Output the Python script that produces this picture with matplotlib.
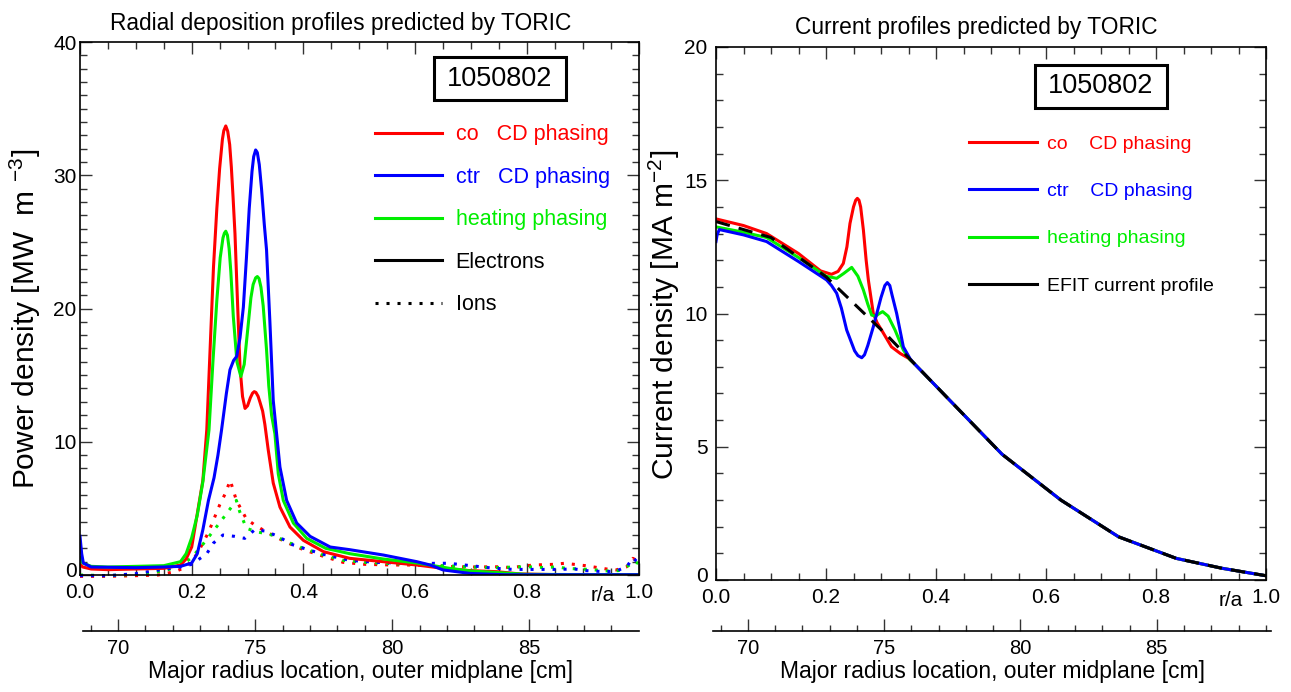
import matplotlib
matplotlib.use("Agg")
import matplotlib.pyplot as plt
from matplotlib.lines import Line2D
from matplotlib.patches import Rectangle
from matplotlib.ticker import MultipleLocator, FormatStrFormatter
from matplotlib.transforms import ScaledTranslation

plt.rcParams['font.family'] = ['Liberation Sans', 'DejaVu Sans']
plt.rcParams['mathtext.fontset'] = 'custom'
plt.rcParams['mathtext.rm'] = 'Liberation Sans'
plt.rcParams['mathtext.it'] = 'Liberation Sans:italic'

RED = '#ff0000'
BLUE = '#0000ff'
GREEN = '#00ee00'
SHOT = '1050802'

# ---- left panel: power density [MW m^-3] vs r/a, electrons (solid)
CO_E_R = [0.0, 0.005, 0.02, 0.05, 0.10, 0.15, 0.18, 0.19, 0.20, 0.21, 0.22, 0.227, 0.233,
          0.239, 0.245, 0.25, 0.255, 0.2575, 0.261, 0.2645, 0.268, 0.271, 0.274, 0.2775,
          0.282, 0.2865, 0.291, 0.2955, 0.300, 0.305, 0.309, 0.312, 0.315, 0.319, 0.322,
          0.327, 0.331, 0.337, 0.346, 0.358, 0.376, 0.40, 0.436, 0.483, 0.543, 0.603,
          0.65, 0.698, 0.746, 0.788, 0.85, 1.0]
CO_E_P = [0.8, 0.6, 0.45, 0.4, 0.45, 0.5, 0.75, 1.2, 2.1, 4.6, 7.1, 10.9, 17.0,
          23.1, 27.5, 30.5, 32.7, 33.35, 33.7, 33.3, 32.3, 30.6, 28.4, 25.6,
          20.5, 15.6, 13.4, 12.5, 12.7, 13.3, 13.65, 13.76, 13.7, 13.4, 13.0,
          12.3, 11.3, 9.4, 6.9, 5.1, 3.6, 2.6, 1.75, 1.25, 1.0, 0.75,
          0.5, 0.33, 0.25, 0.08, 0.03, 0.03]

HT_E_R = [0.0, 0.005, 0.02, 0.05, 0.10, 0.15, 0.18, 0.19, 0.20, 0.21, 0.22, 0.231, 0.238,
          0.245, 0.251, 0.256, 0.2585, 0.261, 0.264, 0.267, 0.27, 0.2745, 0.281, 0.288,
          0.294, 0.30, 0.306, 0.31, 0.3145, 0.3175, 0.3205, 0.324, 0.328, 0.334, 0.338,
          0.343, 0.349, 0.355, 0.364, 0.382, 0.406, 0.44, 0.483, 0.543, 0.603, 0.633,
          0.662, 0.70, 0.80, 0.90, 1.0]
HT_E_P = [1.3, 0.9, 0.65, 0.6, 0.65, 0.7, 1.0, 1.6, 2.8, 4.5, 7.0, 10.9, 16.0,
          20.6, 23.8, 25.3, 25.65, 25.8, 25.5, 24.5, 22.8, 19.4, 16.0, 14.9,
          15.8, 18.3, 20.8, 21.8, 22.3, 22.4, 22.25, 21.6, 20.2, 16.9, 14.2,
          12.0, 10.6, 7.6, 5.6, 3.9, 2.75, 2.0, 1.6, 1.2, 0.9, 0.7,
          0.5, 0.3, 0.05, 0.03, 0.03]

CT_E_R = [0.0, 0.003, 0.006, 0.02, 0.10, 0.15, 0.18, 0.20, 0.21, 0.22, 0.23, 0.24, 0.247,
          0.2535, 0.262, 0.2685, 0.275, 0.2805, 0.2865, 0.2925, 0.298, 0.303, 0.308,
          0.311, 0.3145, 0.3175, 0.321, 0.325, 0.33, 0.334, 0.34, 0.346, 0.352, 0.358,
          0.37, 0.388, 0.412, 0.448, 0.483, 0.543, 0.573, 0.603, 0.627, 0.65, 0.698,
          0.76, 1.0]
CT_E_P = [2.9, 1.6, 0.9, 0.6, 0.55, 0.6, 0.65, 0.9, 1.6, 3.4, 5.6, 7.3, 9.0,
          10.9, 13.6, 15.4, 16.1, 16.4, 17.8, 20.1, 23.8, 27.5, 30.3,
          31.4, 31.9, 31.7, 30.8, 29.0, 26.3, 24.4, 19.0, 13.1, 10.6, 8.1,
          5.6, 3.9, 2.9, 2.1, 1.9, 1.5, 1.25, 1.0, 0.75, 0.38, 0.12,
          0.02, 0.02]

# ions (dotted)
CO_I_R = [0.0, 0.05, 0.10, 0.14, 0.17, 0.19, 0.21, 0.23, 0.25, 0.26, 0.269, 0.28, 0.298,
          0.313, 0.331, 0.349, 0.367, 0.40, 0.436, 0.471, 0.51, 0.56, 0.60, 0.65, 0.70,
          0.755, 0.77, 0.812, 0.848, 0.868, 0.905, 0.943, 0.96, 0.979, 0.99, 1.0]
CO_I_P = [-0.1, -0.1, -0.05, 0.0, 0.25, 0.6, 1.6, 3.2, 5.25, 6.1, 7.1, 5.6, 4.2,
          3.75, 3.3, 2.9, 2.5, 1.9, 1.4, 0.95, 0.8, 0.75, 0.75, 0.65, 0.6,
          0.62, 0.55, 0.75, 0.8, 0.88, 0.7, 0.45, 0.38, 0.62, 1.25, 1.0]

HT_I_R = [0.0, 0.05, 0.10, 0.15, 0.18, 0.20, 0.22, 0.247, 0.265, 0.28, 0.286, 0.298, 0.316,
          0.333, 0.349, 0.367, 0.40, 0.436, 0.471, 0.51, 0.56, 0.60, 0.65, 0.70, 0.74,
          0.80, 0.835, 0.853, 0.87, 0.91, 0.946, 0.964, 0.982, 0.99, 1.0]
HT_I_P = [0.0, -0.05, 0.05, 0.3, 0.7, 1.3, 2.3, 3.75, 4.75, 5.6, 4.75, 3.5, 3.25,
          3.1, 2.95, 2.55, 2.0, 1.5, 1.1, 0.95, 0.85, 0.8, 0.7, 0.6, 0.55,
          0.62, 0.55, 0.62, 0.5, 0.42, 0.3, 0.33, 0.7, 1.0, 0.88]

CT_I_R = [0.0, 0.05, 0.10, 0.137, 0.18, 0.20, 0.227, 0.239, 0.256, 0.277, 0.295, 0.313,
          0.331, 0.352, 0.382, 0.412, 0.436, 0.483, 0.53, 0.60, 0.641, 0.66, 0.70, 0.738,
          0.775, 0.85, 0.886, 0.905, 0.94, 0.96, 0.979, 0.99, 1.0]
CT_I_P = [-0.05, -0.05, 0.1, 0.35, 0.6, 0.8, 1.6, 2.4, 3.0, 2.9, 2.75, 3.4,
          3.3, 2.95, 2.25, 1.85, 1.55, 1.1, 0.95, 0.85, 0.88, 0.88, 0.7, 0.52,
          0.42, 0.42, 0.45, 0.33, 0.25, 0.3, 0.62, 1.3, 0.88]

# ---- right panel: current density [MA m^-2] vs r/a
EFIT_R = [0.0, 0.10, 0.20, 0.31, 0.42, 0.52, 0.627, 0.732, 0.837, 0.92, 1.0]
EFIT_J = [13.45, 12.85, 11.38, 9.2, 6.85, 4.72, 3.0, 1.62, 0.81, 0.44, 0.16]

CO_J_R = [0.0, 0.05, 0.092, 0.15, 0.19, 0.21, 0.222, 0.2315, 0.238, 0.2436, 0.25, 0.254,
          0.257, 0.26, 0.263, 0.268, 0.273, 0.277, 0.286, 0.293, 0.301, 0.319, 0.335,
          0.35, 0.36, 0.42, 0.52, 0.627, 0.732, 0.837, 0.92, 1.0]
CO_J = [13.55, 13.3, 13.0, 12.25, 11.6, 11.47, 11.58, 11.88, 12.5, 13.38, 14.0, 14.25,
        14.32, 14.25, 14.0, 13.13, 12.0, 11.26, 10.0, 9.65, 9.38, 8.75, 8.5,
        8.32, 8.13, 6.85, 4.72, 3.0, 1.62, 0.81, 0.44, 0.16]

HT_J_R = [0.0, 0.05, 0.092, 0.15, 0.2, 0.2194, 0.232, 0.2467, 0.258, 0.268, 0.276, 0.283,
          0.29, 0.297, 0.303, 0.313, 0.3255, 0.3406, 0.353, 0.36, 0.42, 0.52, 0.627,
          0.732, 0.837, 0.92, 1.0]
HT_J = [13.25, 13.05, 12.85, 12.1, 11.4, 11.32, 11.5, 11.73, 11.4, 10.88, 10.35, 9.94,
        9.9, 10.0, 10.07, 9.9, 9.38, 8.63, 8.26, 8.13, 6.85, 4.72, 3.0,
        1.62, 0.81, 0.44, 0.16]

CT_J_R = [0.0, 0.002, 0.006, 0.05, 0.092, 0.15, 0.201, 0.21, 0.2194, 0.228, 0.2376, 0.252,
          0.258, 0.265, 0.27, 0.276, 0.286, 0.3, 0.307, 0.3115, 0.316, 0.32, 0.3285,
          0.3406, 0.353, 0.36, 0.42, 0.52, 0.627, 0.732, 0.837, 0.92, 1.0]
CT_J = [12.7, 12.95, 13.15, 12.95, 12.7, 11.95, 11.26, 11.05, 10.76, 10.2, 9.38, 8.6,
        8.42, 8.34, 8.45, 8.8, 9.5, 10.6, 11.05, 11.16, 11.05, 10.7, 10.0,
        8.75, 8.3, 8.13, 6.85, 4.72, 3.0, 1.62, 0.81, 0.44, 0.16]

R_TICKS = [70, 75, 80, 85]

W, H = 1291, 692
LW = 2.2
DOTS = (0, (1, 2.6))
DASH = (0, (4.7, 3))


def style_main(ax, ymax, ymajor, ypad):
    ax.set_xlim(0, 1)
    ax.set_ylim(0, ymax)
    ax.xaxis.set_major_locator(MultipleLocator(0.2))
    ax.xaxis.set_minor_locator(MultipleLocator(0.05))
    ax.xaxis.set_major_formatter(FormatStrFormatter('%.1f'))
    ax.yaxis.set_major_locator(MultipleLocator(ymajor))
    ax.yaxis.set_minor_locator(MultipleLocator(1))
    ax.tick_params(which='both', direction='in', top=True, right=True, color='#333333')
    ax.tick_params(which='major', length=8.6, width=1.0)
    ax.tick_params(which='minor', length=5, width=1.0)
    ax.tick_params(axis='x', labelsize=15, pad=6)
    ax.tick_params(axis='y', labelsize=15, pad=ypad)
    for s in ax.spines.values():
        s.set_linewidth(1.2)
    ax.text(0.936, -0.0385, 'r/a', transform=ax.transAxes, fontsize=15,
            ha='center', va='center')


def lift_zero_label(ax):
    # the "0" on the y axis sits a little above its tick
    for t in ax.yaxis.get_major_ticks():
        if abs(t.get_loc()) < 1e-9:
            lbl = t.label1
            lbl.set_transform(lbl.get_transform()
                              + ScaledTranslation(0, 5.5 / 100, fig.dpi_scale_trans))


def radius_axis(x0, x1, lims):
    # major-radius scale drawn as a bare spine under the r/a axis
    rax = fig.add_axes([x0 / W, 1 - 631 / H, (x1 - x0) / W, 0.001])
    rax.set_facecolor('none')
    for side in ('top', 'left', 'right'):
        rax.spines[side].set_visible(False)
    rax.spines['bottom'].set_linewidth(1.2)
    rax.set_yticks([])
    rax.set_xlim(*lims)
    rax.set_xticks(R_TICKS)
    rax.xaxis.set_minor_locator(MultipleLocator(1))
    rax.tick_params(which='both', direction='in', color='#333333', width=1.0)
    rax.tick_params(which='major', length=8.6, labelsize=14.5, pad=6)
    rax.tick_params(which='minor', length=4.3)
    rax.set_xlabel('Major radius location, outer midplane [cm]', fontsize=16.5, labelpad=1)
    return rax


def shot_box(cx, cy):
    bw, bh = 132, 43
    fig.patches.append(Rectangle(((cx - bw / 2) / W, 1 - (cy + bh / 2) / H), bw / W, bh / H,
                                 transform=fig.transFigure, fill=False, lw=2.2, ec='black'))
    fig.text(cx / W, 1 - cy / H, SHOT, fontsize=19.5, ha='center', va='center')


fig = plt.figure(figsize=(W / 100, H / 100), dpi=100)
ax1 = fig.add_axes([80 / W, 1 - 575 / H, 558.5 / W, 533 / H])
ax2 = fig.add_axes([716 / W, 1 - 580 / H, 550 / W, 533 / H])

# left: power deposition
ax1.plot(CO_I_R, CO_I_P, color=RED, lw=LW, ls=DOTS, clip_on=False)
ax1.plot(HT_I_R, HT_I_P, color=GREEN, lw=LW, ls=DOTS, clip_on=False)
ax1.plot(CT_I_R, CT_I_P, color=BLUE, lw=LW, ls=DOTS, clip_on=False)
l_co, = ax1.plot(CO_E_R, CO_E_P, color=RED, lw=LW)
l_ht, = ax1.plot(HT_E_R, HT_E_P, color=GREEN, lw=LW)
l_ct, = ax1.plot(CT_E_R, CT_E_P, color=BLUE, lw=LW)
style_main(ax1, 40, 10, 2.5)
ax1.set_ylabel('Power density [MW  m $^{-3}$]', fontsize=21.5)
ax1.yaxis.set_label_coords(-0.066, 0.48)
ax1.text(0.467, 1.0356, 'Radial deposition profiles predicted by TORIC',
         transform=ax1.transAxes, fontsize=16.4, ha='center', va='center')
ax1.legend([l_co, l_ct, l_ht, Line2D([], [], color='k', lw=LW),
            Line2D([], [], color='k', lw=LW, ls=DOTS)],
           ['co   CD phasing', 'ctr   CD phasing', 'heating phasing', 'Electrons', 'Ions'],
           labelcolor=[RED, BLUE, GREEN, 'k', 'k'], loc='upper left',
           bbox_to_anchor=(0.528, 0.846), frameon=False, fontsize=15.5,
           handlelength=3.1, handletextpad=0.65, labelspacing=1.0,
           borderpad=0, borderaxespad=0)

# right: current profiles
j_co, = ax2.plot(CO_J_R, CO_J, color=RED, lw=LW)
j_ht, = ax2.plot(HT_J_R, HT_J, color=GREEN, lw=LW)
j_ct, = ax2.plot(CT_J_R, CT_J, color=BLUE, lw=LW)
ax2.plot(EFIT_R, EFIT_J, color='k', lw=LW, ls=DASH)
style_main(ax2, 20, 5, 6)
ax2.set_ylabel('Current density [MA m$^{-2}$]', fontsize=21.5)
ax2.yaxis.set_label_coords(-0.062, 0.498)
ax2.text(0.473, 1.0375, 'Current profiles predicted by TORIC',
         transform=ax2.transAxes, fontsize=16.4, ha='center', va='center')
ax2.legend([j_co, j_ct, j_ht, Line2D([], [], color='k', lw=LW)],
           ['co    CD phasing', 'ctr    CD phasing', 'heating phasing',
            'EFIT current profile'],
           labelcolor=[RED, BLUE, GREEN, 'k'], loc='upper left',
           bbox_to_anchor=(0.46, 0.834), frameon=False, fontsize=14,
           handlelength=3.5, handletextpad=0.52, labelspacing=1.52,
           borderpad=0, borderaxespad=0)

radius_axis(83, 638.5, (68.72, 88.99))
radius_axis(713, 1271, (68.72, 89.19))

shot_box(500, 78.5)
shot_box(1100.5, 86)

fig.canvas.draw()
lift_zero_label(ax1)
lift_zero_label(ax2)

fig.savefig('out.png', dpi=100)
